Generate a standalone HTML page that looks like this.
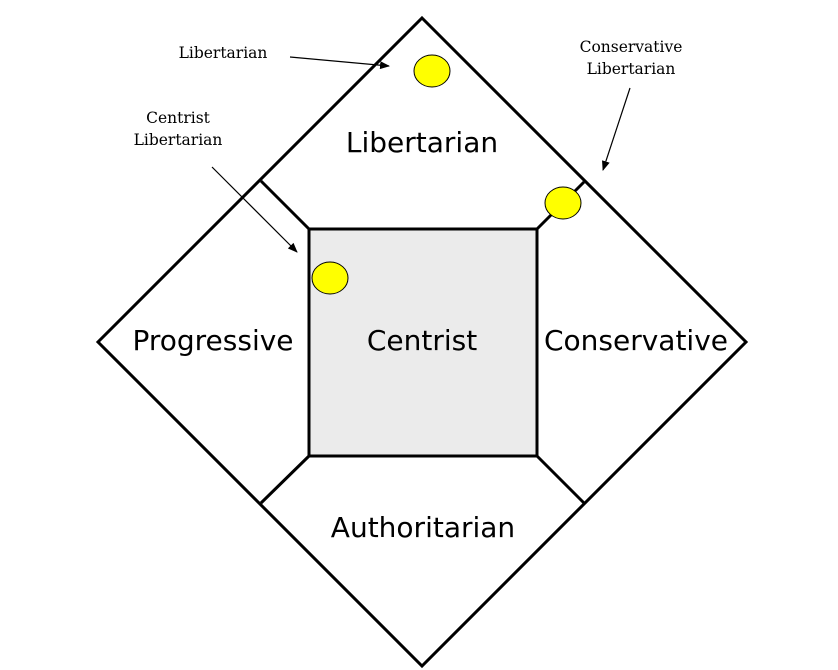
<!DOCTYPE html>
<html><head><meta charset="utf-8"><style>body{margin:0;background:#fff}svg{display:block}</style></head>
<body>
<svg width="838" height="670" viewBox="0 0 838 670" xmlns="http://www.w3.org/2000/svg">
<defs><marker id="a" markerWidth="10" markerHeight="8" refX="9" refY="4" orient="auto" markerUnits="userSpaceOnUse"><path d="M0,0 L10,4 L0,8 Z" fill="#000"/></marker></defs>
<polygon points="422,18 746,342 422,666 98,342" fill="#fff" stroke="#000" stroke-width="3"/>
<rect x="309" y="229" width="228" height="227" fill="#ebebeb" stroke="#000" stroke-width="3"/>
<g stroke="#000" stroke-width="3">
<line x1="309" y1="229" x2="261" y2="181"/>
<line x1="537" y1="229" x2="584" y2="182"/>
<line x1="309" y1="456" x2="261" y2="503"/>
<line x1="537" y1="456" x2="584" y2="503"/>
</g>
<g fill="#ff0" stroke="#000" stroke-width="1">
<ellipse cx="432" cy="71" rx="18" ry="16"/>
<ellipse cx="563" cy="203" rx="18" ry="16"/>
<ellipse cx="330" cy="278" rx="18" ry="16"/>
</g>
<g stroke="#000" stroke-width="1.2" marker-end="url(#a)">
<line x1="290" y1="57" x2="389" y2="66"/>
<line x1="630" y1="88" x2="603" y2="170"/>
<line x1="212" y1="167" x2="297" y2="252"/>
</g>
<g font-family="DejaVu Serif, serif" font-size="15.5" text-anchor="middle">
<text x="223" y="58">Libertarian</text>
<text x="631" y="52">Conservative</text>
<text x="631" y="74">Libertarian</text>
<text x="178" y="123">Centrist</text>
<text x="178" y="145">Libertarian</text>
</g>
<g font-family="DejaVu Sans, sans-serif" font-size="28" text-anchor="middle">
<text x="422" y="152">Libertarian</text>
<text x="213" y="350">Progressive</text>
<text x="422" y="350">Centrist</text>
<text x="636" y="350">Conservative</text>
<text x="423" y="537">Authoritarian</text>
</g>
</svg>
</body></html>
